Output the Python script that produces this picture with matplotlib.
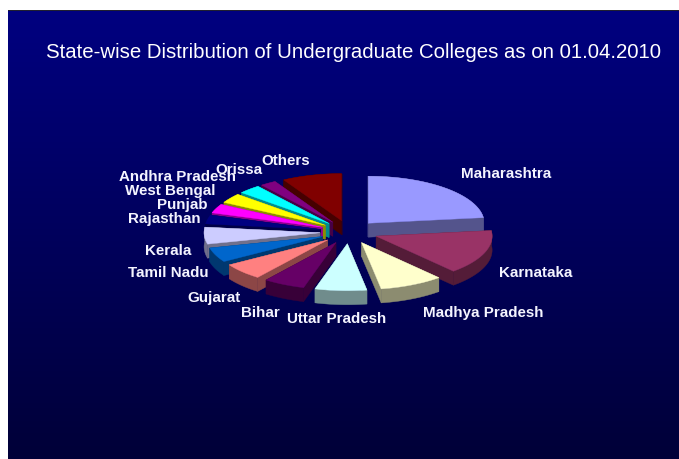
#!/usr/bin/env python3

import matplotlib
matplotlib.use('Agg')
import matplotlib.pyplot as plt
from matplotlib.patches import Polygon, Rectangle
import numpy as np

title = 'State-wise Distribution of Undergraduate Colleges as on 01.04.2010'

states = ['Maharashtra', 'Karnataka', 'Madhya Pradesh', 'Uttar Pradesh', 'Bihar',
          'Gujarat', 'Tamil Nadu', 'Kerala', 'Rajasthan', 'Punjab',
          'West Bengal', 'Andhra Pradesh', 'Orissa', 'Others']
share = [23.1, 15.3, 8.9, 7.2, 5.8, 5.8, 5.0, 5.8, 3.1, 3.1, 3.3, 3.1, 2.2, 8.3]

colors = ['#9999ff', '#993366', '#ffffcc', '#ccffff', '#660066', '#ff8080', '#0066cc',
          '#ccccff', '#000080', '#ff00ff', '#ffff00', '#00ffff', '#800080', '#800000']

# label anchors in image pixels (left edge, vertical centre)
label_pos = [(461, 174), (499, 273), (423, 313), (287, 319), (241, 313),
             (187, 298), (128, 273), (145, 251), (128, 219), (157, 205),
             (125, 191), (119, 177), (215, 170), (261, 161)]

# pie geometry, image pixels
cx, cy = 349, 232
rx, ry = 116, 47
depth = 14
explode = 0.25


def darker(c, f=0.55):
    r, g, b = matplotlib.colors.to_rgb(c)
    return (r*f, g*f, b*f)


def point(th, r=1.0, ox=0.0, oy=0.0):
    # th is clockwise from 12 o'clock
    return (ox + r*rx*np.sin(th), oy - r*ry*np.cos(th))


fig = plt.figure(figsize=(6.79, 4.59), dpi=100, facecolor='white')
ax = fig.add_axes([0, 0, 1, 1])

# background gradient
grad = np.zeros((256, 1, 3))
grad[:, 0, 2] = np.linspace(128, 56, 256)/255
ax.imshow(grad, extent=(8, 679, 459, 11), aspect='auto', zorder=0)
ax.set_xlim(0, 679)
ax.set_ylim(459, 0)
ax.axis('off')
ax.add_patch(Rectangle((8, 10), 671, 1.2, color='#202030', lw=0, zorder=1))

angles = 2*np.pi*np.array(share)/sum(share)
ends = np.cumsum(angles)
starts = ends - angles
mids = (starts + ends)/2

# far slices first
z = 2
for i in np.argsort(-np.cos(mids)):
    ox = cx + explode*rx*np.sin(mids[i])
    oy = cy - explode*ry*np.cos(mids[i])
    th = np.linspace(starts[i], ends[i], 60)
    arc = np.array([point(t, 1.0, ox, oy) for t in th])
    side = darker(colors[i])

    for t in (starts[i], ends[i]):
        e = point(t, 1.0, ox, oy)
        face = [(ox, oy), e, (e[0], e[1]+depth), (ox, oy+depth)]
        ax.add_patch(Polygon(face, closed=True, fc=side, ec=side, lw=0.3, zorder=z))
    low = arc + np.array([0, depth])
    ax.add_patch(Polygon(np.vstack([arc, low[::-1]]), closed=True, fc=side, ec=side, lw=0.3, zorder=z))
    top = np.vstack([[ox, oy], arc])
    ax.add_patch(Polygon(top, closed=True, fc=colors[i], ec=colors[i], lw=0.3, zorder=z+0.5))
    z += 1

for name, (x, y) in zip(states, label_pos):
    ax.text(x, y, name, color='#f4f4ff', fontsize=10.9, fontweight='bold',
            family='Liberation Sans', ha='left', va='center', zorder=50)

ax.text(46, 53, title, color='white', fontsize=14.65, family='Liberation Sans',
        ha='left', va='center', zorder=50)

fig.savefig('out.png', dpi=100, facecolor='white')
